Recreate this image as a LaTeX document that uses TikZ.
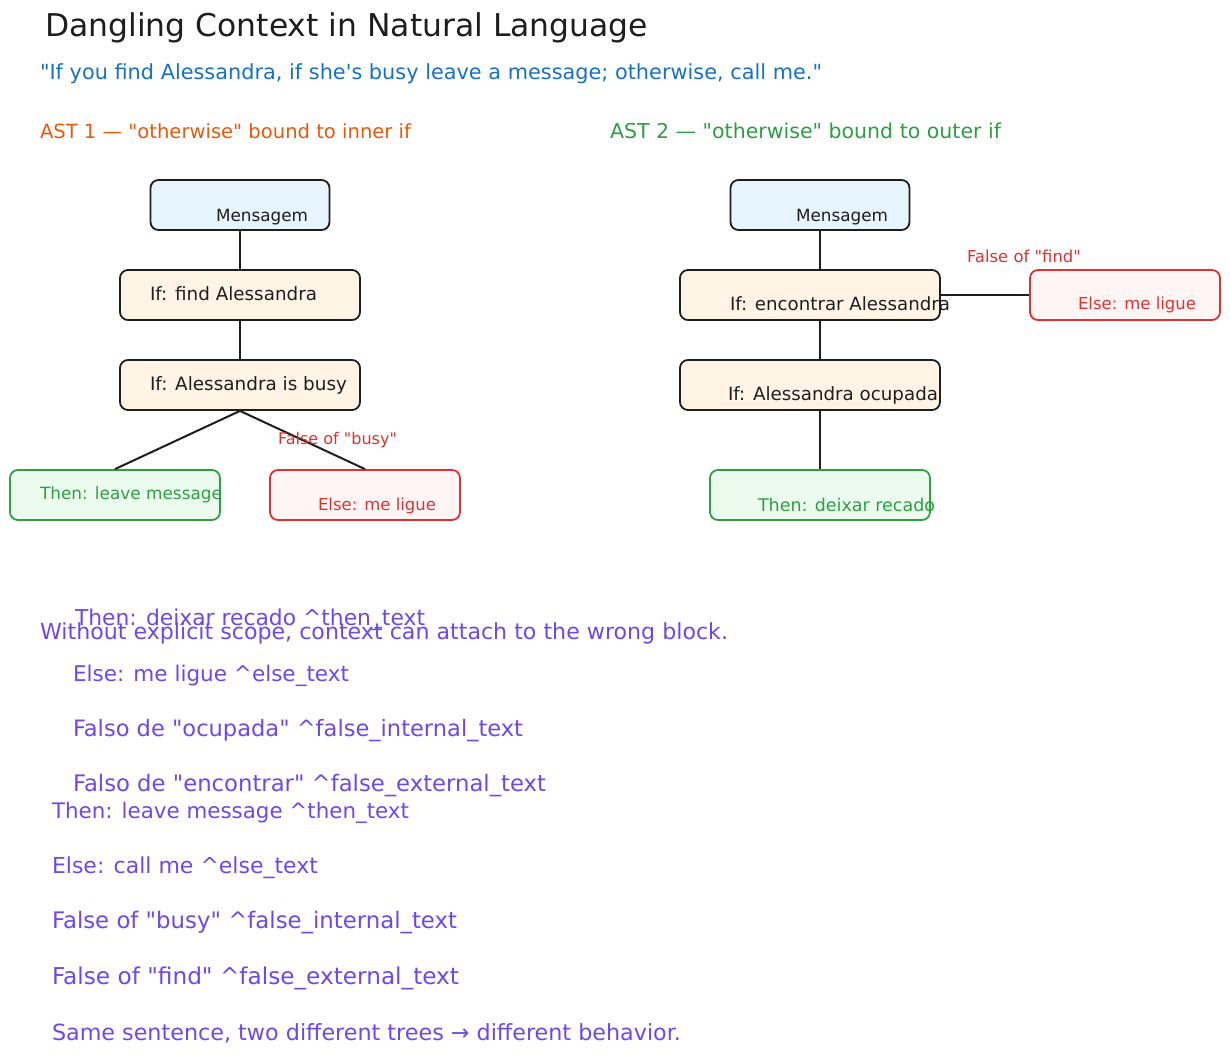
\documentclass[tikz,border=0pt]{standalone}
\usepackage{fontspec}
\setmainfont{DejaVu Sans}[Ligatures=TeXOff]
\usepackage{graphicx}
\definecolor{ink}{HTML}{1E1E1E}
\definecolor{bluefill}{HTML}{E7F5FF}
\definecolor{orfill}{HTML}{FFF4E6}
\definecolor{grstroke}{HTML}{2F9E44}
\definecolor{grfill}{HTML}{EBFBEE}
\definecolor{rdstroke}{HTML}{E03131}
\definecolor{rdfill}{HTML}{FFF5F5}
\definecolor{bltext}{HTML}{1971C2}
\definecolor{ortext}{HTML}{E8590C}
\definecolor{purp}{HTML}{7048E8}
\newcommand{\fitw}[2]{\resizebox{#1pt}{!}{#2}}
\begin{document}
\begin{tikzpicture}[x=1pt,y=-1pt,
  box/.style={draw=ink, line width=1.8pt, rounded corners=8pt, inner sep=0pt, minimum height=50pt},
  msgbox/.style={box, fill=bluefill, minimum width=179pt},
  ifbox/.style={box, fill=orfill},
  thenbox/.style={box, draw=grstroke, fill=grfill},
  elsebox/.style={box, draw=rdstroke, fill=rdfill, minimum width=190pt},
  conn/.style={draw=ink, line width=2pt},
  txt/.style={anchor=west, inner sep=0pt, outer sep=0pt}]
\useasboundingbox[fill=white] (0,0) rectangle (1230,1057);

% headings
\node[txt, text=ink] (title) at (45,28) {\fitw{603}{Dangling Context in Natural Language}};
\node[txt, text=bltext] (sub) at (40,74) {\fitw{782}{"If you find Alessandra, if she's busy leave a message; otherwise, call me."}};
\node[txt, text=ortext] (ast1) at (40,131) {\fitw{371}{AST 1 — "otherwise" bound to inner if}};
\node[txt, text=grstroke] (ast2) at (610,131) {\fitw{391}{AST 2 — "otherwise" bound to outer if}};

% left tree boxes
\node[msgbox] (m1) at (240,205) {};
\node[ifbox, minimum width=240pt] (f1) at (240,295) {};
\node[ifbox, minimum width=240pt] (b1) at (240,385) {};
\node[thenbox, minimum width=210pt] (t1) at (115,495) {};
\node[elsebox] (e1) at (365,495) {};

\draw[conn] (m1.south) -- (f1.north);
\draw[conn] (f1.south) -- (b1.north);
\draw[conn] (b1.south) -- (t1.north);
\draw[conn] (b1.south) -- (e1.north);

\node[txt, text=ink] (m1t) at (216,217) {\fitw{92}{Mensagem}};
\node[txt, text=ink] (f1t) at (150,294) {\fitw{167}{If: find Alessandra}};
\node[txt, text=ink] (b1t) at (150,385) {\fitw{197}{If: Alessandra is busy}};
\node[txt, text=grstroke] (t1t) at (40,495) {\fitw{182}{Then: leave message}};
\node[txt, text=rdstroke] (e1t) at (318,506) {\fitw{118}{Else: me ligue}};
\node[txt, text=rdstroke] (fb) at (278,440) {\fitw{119}{False of "busy"}};

% right tree boxes
\node[msgbox] (m2) at (820,205) {};
\node[ifbox, minimum width=260pt] (f2) at (810,295) {};
\node[elsebox] (e2) at (1125,295) {};
\node[ifbox, minimum width=260pt] (b2) at (810,385) {};
\node[thenbox, minimum width=220pt] (t2) at (820,495) {};

\draw[conn] (m2.south) -- (m2.south |- f2.north);
\draw[conn] (f2.east) -- (e2.west);
\draw[conn] (m2.south |- f2.south) -- (m2.south |- b2.north);
\draw[conn] (m2.south |- b2.south) -- (t2.north);

\node[txt, text=ink] (m2t) at (796,217) {\fitw{92}{Mensagem}};
\node[txt, text=ink] (f2t) at (730,304) {\fitw{220}{If: encontrar Alessandra}};
\node[txt, text=rdstroke] (e2t) at (1078,305) {\fitw{118}{Else: me ligue}};
\node[txt, text=rdstroke] (ff) at (967,256) {\fitw{114}{False of "find"}};
\node[txt, text=ink] (b2t) at (728,395) {\fitw{210}{If: Alessandra ocupada}};
\node[txt, text=grstroke] (t2t) at (758,505) {\fitw{177}{Then: deixar recado}};

% purple notes
\node[txt, text=purp] (p1) at (75,620) {\fitw{350}{Then: deixar recado \textasciicircum then\_text}};
\node[txt, text=purp] (p2) at (40,633) {\fitw{688}{Without explicit scope, context can attach to the wrong block.}};
\node[txt, text=purp] (p3) at (73,676) {\fitw{276}{Else: me ligue \textasciicircum else\_text}};
\node[txt, text=purp] (p4) at (73,731) {\fitw{450}{Falso de "ocupada" \textasciicircum false\_internal\_text}};
\node[txt, text=purp] (p5) at (73,786) {\fitw{473}{Falso de "encontrar" \textasciicircum false\_external\_text}};
\node[txt, text=purp] (p6) at (52,813) {\fitw{357}{Then: leave message \textasciicircum then\_text}};
\node[txt, text=purp] (p7) at (52,868) {\fitw{266}{Else: call me \textasciicircum else\_text}};
\node[txt, text=purp] (p8) at (52,923) {\fitw{405}{False of "busy" \textasciicircum false\_internal\_text}};
\node[txt, text=purp] (p9) at (52,978) {\fitw{407}{False of "find" \textasciicircum false\_external\_text}};
\node[txt, text=purp] (p10) at (52,1033) {\fitw{629}{Same sentence, two different trees → different behavior.}};
\end{tikzpicture}
\end{document}
